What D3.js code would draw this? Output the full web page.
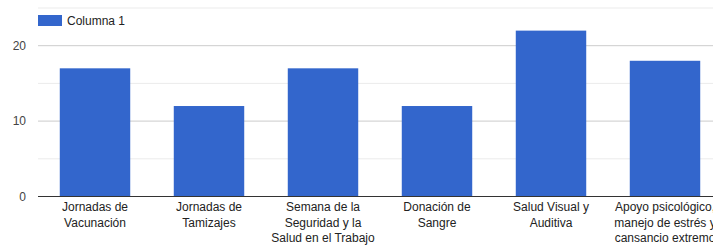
<!DOCTYPE html>
<html>
<head>
<meta charset="utf-8">
<script src="https://cdn.jsdelivr.net/npm/d3@7"></script>
<style>
  body { margin: 0; background: #fff; }
  svg { display: block; font-family: Arial, "Liberation Sans", sans-serif; }
</style>
</head>
<body>
<svg id="chart" width="713" height="247"></svg>
<script>
var categories = [
    ["Jornadas de", "Vacunación"],
    ["Jornadas de", "Tamizajes"],
    ["Semana de la", "Seguridad y la", "Salud en el Trabajo"],
    ["Donación de", "Sangre"],
    ["Salud Visual y", "Auditiva"],
    ["Apoyo psicológico,", "manejo de estrés y", "cansancio extremo"]
]
var values = [17, 12, 17, 12, 22, 18]
var majorTicks = [0, 10, 20]
var minorTicks = [5, 15, 25]
var seriesName = "Columna 1"

var svg = d3.select("#chart"),
    margin = { top: 8, left: 38, bottom: 50.5, right: -9 },
    width = 713, height = 247;

var names = categories.map(d => d.join(" "))

var x = d3.scaleBand()
    .domain(names)
    .range([margin.left, width - margin.right])
    .paddingInner(0.382)
    .paddingOuter(0.191)

var y = d3.scaleLinear()
    .domain([0, 25])
    .range([height - margin.bottom, margin.top])

// gridlines
svg.append("g").selectAll("line")
    .data(minorTicks)
    .enter().append("line")
    .attr("x1", margin.left).attr("x2", width)
    .attr("y1", d => y(d)).attr("y2", d => y(d))
    .attr("stroke", "#ebebeb")

svg.append("g").selectAll("line")
    .data(majorTicks.filter(d => d > 0))
    .enter().append("line")
    .attr("x1", margin.left).attr("x2", width)
    .attr("y1", d => y(d)).attr("y2", d => y(d))
    .attr("stroke", "#cccccc")

// y labels
svg.append("g").selectAll("text")
    .data(majorTicks)
    .enter().append("text")
    .attr("x", 26)
    .attr("y", d => y(d) + 4)
    .attr("text-anchor", "end")
    .attr("font-size", 12)
    .attr("fill", "#444")
    .text(d => d)

// bars
svg.append("g").selectAll("rect")
    .data(values)
    .enter().append("rect")
    .attr("x", (d, i) => x(names[i]))
    .attr("width", x.bandwidth())
    .attr("y", d => y(d))
    .attr("height", d => y(0) - y(d))
    .attr("fill", "#3366cc")

// baseline
svg.append("line")
    .attr("x1", margin.left).attr("x2", width)
    .attr("y1", y(0)).attr("y2", y(0))
    .attr("stroke", "#333")

// category labels
var labels = svg.append("g").selectAll("text")
    .data(categories)
    .enter().append("text")
    .attr("text-anchor", "middle")
    .attr("font-size", 12)
    .attr("fill", "#222")
    .attr("transform", (d, i) => `translate(${x(names[i]) + x.bandwidth() / 2},0)`)

labels.selectAll("tspan")
    .data(d => d)
    .enter().append("tspan")
    .attr("x", 0)
    .attr("y", (d, i) => 211 + i * 15.5)
    .text(d => d)

// legend
svg.append("rect")
    .attr("x", 38).attr("y", 15)
    .attr("width", 24).attr("height", 11)
    .attr("fill", "#3366cc")

svg.append("text")
    .attr("x", 67).attr("y", 25)
    .attr("font-size", 12)
    .attr("fill", "#222")
    .text(seriesName)
</script>
</body>
</html>
